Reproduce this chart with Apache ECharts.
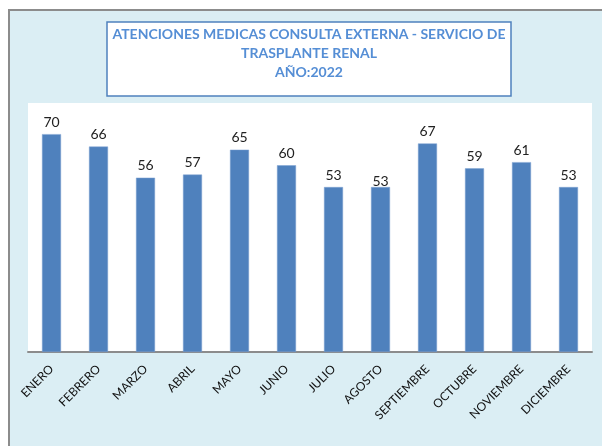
<!DOCTYPE html>
<html>
<head>
<meta charset="utf-8">
<script src="https://cdn.jsdelivr.net/npm/echarts@6/dist/echarts.min.js"></script>
<style>
  html, body { margin: 0; padding: 0; background: #fff; }
  #chart { width: 602px; height: 446px; }
</style>
</head>
<body>
<div id="chart"></div>
<script>
const meses = ["ENERO", "FEBRERO", "MARZO", "ABRIL", "MAYO", "JUNIO", "JULIO", "AGOSTO",
  "SEPTIEMBRE", "OCTUBRE", "NOVIEMBRE", "DICIEMBRE"];
const atenciones = [70, 66, 56, 57, 65, 60, 53, 53, 67, 59, 61, 53];
const titulo = "ATENCIONES MEDICAS CONSULTA EXTERNA - SERVICIO DE\nTRASPLANTE RENAL\nAÑO:2022";

const chart = echarts.init(document.getElementById("chart"));

const option = {
  animation: false,
  graphic: [
    {
      // fondo celeste del gráfico
      type: "rect", z: -10,
      shape: { x: 9, y: 10, width: 600, height: 450 },
      style: { fill: "#DBEEF4", stroke: "#8c8c8c", lineWidth: 2 }
    },
    {
      // área de trazado blanca
      type: "rect", z: -9,
      shape: { x: 28, y: 103, width: 564, height: 249 },
      style: { fill: "#ffffff" }
    },
    {
      // caja del título
      type: "rect", z: -8,
      shape: { x: 107, y: 22, width: 404, height: 74 },
      style: { fill: "#ffffff", stroke: "#4F81BD", lineWidth: 1.5 }
    }
  ],
  title: {
    text: titulo,
    left: 304,
    top: 20,
    textAlign: "center",
    textStyle: {
      fontFamily: "Lato",
      fontWeight: "bold",
      fontSize: 14,
      lineHeight: 19,
      color: "#558ED5"
    }
  },
  grid: { left: 28, right: 10, top: 103, bottom: 94 },
  xAxis: {
    type: "category",
    data: meses,
    axisLine: { lineStyle: { color: "#8c8c8c", width: 2 } },
    axisTick: { show: false },
    axisLabel: {
      rotate: 45,
      interval: 0,
      fontFamily: "Lato",
      fontSize: 12,
      color: "#111",
      margin: 15
    }
  },
  yAxis: {
    type: "value",
    min: 0,
    max: 80,
    show: false,
    splitLine: { show: false }
  },
  series: [{
    type: "bar",
    barWidth: 19,
    data: atenciones.map((v, i) => i === 7
      ? { value: v, label: { offset: [0, 6] } }
      : v),
    itemStyle: { color: "#4F81BD", borderColor: "#7EA3D3", borderWidth: 0.5 },
    label: {
      show: true,
      position: "top",
      distance: 5,
      fontFamily: "Lato",
      fontSize: 14,
      color: "#222"
    }
  }]
};

chart.setOption(option);
</script>
</body>
</html>
